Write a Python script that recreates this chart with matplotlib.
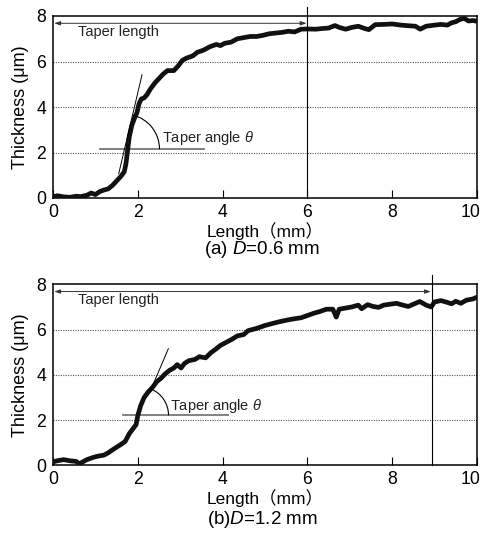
import numpy as np
import matplotlib
matplotlib.use("Agg")
import matplotlib.pyplot as plt
from matplotlib.patches import Arc
from matplotlib.transforms import ScaledTranslation

plt.rcParams['font.family'] = ['Liberation Sans', 'Noto Sans CJK JP', 'DejaVu Sans']
plt.rcParams['mathtext.fontset'] = 'custom'
plt.rcParams['mathtext.it'] = 'Liberation Sans:italic'
plt.rcParams['mathtext.rm'] = 'Liberation Sans'

# ---- data: panel (a) D = 0.6 mm ----
xa = [0.0, 0.1, 0.25, 0.4, 0.55, 0.65, 0.8, 0.9, 1.0, 1.1, 1.2, 1.3, 1.4, 1.5, 1.6,
      1.68, 1.72, 1.76, 1.8, 1.86, 1.92, 1.98, 2.03, 2.08, 2.15, 2.22, 2.3, 2.4, 2.5,
      2.6, 2.7, 2.85, 2.95, 3.05, 3.15, 3.3, 3.4, 3.55, 3.7, 3.85, 3.95, 4.05, 4.2,
      4.35, 4.5, 4.65, 4.8, 4.95, 5.1, 5.25, 5.4, 5.55, 5.7, 5.85, 6.0, 6.2, 6.35,
      6.5, 6.65, 6.75, 6.9, 7.05, 7.2, 7.35, 7.45, 7.6, 7.8, 8.0, 8.2, 8.4, 8.55,
      8.66, 8.8, 9.0, 9.15, 9.3, 9.4, 9.5, 9.6, 9.7, 9.8, 9.9, 10.0]
ya = [0.05, 0.1, 0.05, 0.03, 0.08, 0.06, 0.12, 0.22, 0.15, 0.28, 0.35, 0.4, 0.55,
      0.75, 0.95, 1.15, 1.5, 2.1, 2.7, 3.2, 3.5, 3.75, 4.15, 4.35, 4.4, 4.55, 4.8,
      5.05, 5.25, 5.45, 5.6, 5.6, 5.8, 6.05, 6.15, 6.25, 6.4, 6.5, 6.65, 6.75, 6.7,
      6.8, 6.85, 7.0, 7.05, 7.1, 7.1, 7.15, 7.22, 7.25, 7.28, 7.33, 7.3, 7.42, 7.43,
      7.42, 7.45, 7.47, 7.58, 7.5, 7.42, 7.5, 7.55, 7.45, 7.4, 7.62, 7.63, 7.65,
      7.6, 7.57, 7.55, 7.42, 7.55, 7.6, 7.63, 7.6, 7.7, 7.75, 7.85, 7.9, 7.78, 7.8,
      7.77]

# ---- data: panel (b) D = 1.2 mm ----
xb = [0.0, 0.1, 0.25, 0.4, 0.55, 0.62, 0.7, 0.8, 0.95, 1.05, 1.2, 1.3, 1.4, 1.5,
      1.6, 1.7, 1.8, 1.9, 1.96, 2.0, 2.07, 2.15, 2.25, 2.35, 2.45, 2.55, 2.65, 2.75,
      2.85, 2.93, 3.02, 3.1, 3.2, 3.35, 3.45, 3.6, 3.72, 3.85, 3.95, 4.05, 4.2, 4.35,
      4.5, 4.6, 4.8, 5.0, 5.2, 5.35, 5.55, 5.7, 5.85, 6.0, 6.15, 6.3, 6.45, 6.6,
      6.68, 6.75, 6.9, 7.05, 7.2, 7.28, 7.42, 7.55, 7.68, 7.8, 7.95, 8.1, 8.25, 8.38,
      8.5, 8.65, 8.8, 8.92, 9.0, 9.15, 9.3, 9.4, 9.5, 9.62, 9.75, 9.9, 10.0]
yb = [0.15, 0.2, 0.25, 0.2, 0.17, 0.06, 0.15, 0.25, 0.35, 0.4, 0.45, 0.55, 0.68,
      0.8, 0.92, 1.05, 1.4, 1.65, 1.8, 2.2, 2.65, 3.0, 3.25, 3.45, 3.7, 3.85, 4.05,
      4.2, 4.3, 4.45, 4.3, 4.5, 4.62, 4.68, 4.8, 4.75, 4.97, 5.15, 5.3, 5.4, 5.55,
      5.72, 5.78, 5.95, 6.05, 6.18, 6.28, 6.35, 6.43, 6.48, 6.52, 6.62, 6.72, 6.8,
      6.9, 6.9, 6.55, 6.9, 6.95, 7.0, 7.08, 6.92, 7.1, 7.02, 6.98, 7.08, 7.12, 7.16,
      7.08, 7.02, 7.12, 7.24, 7.08, 7.0, 7.22, 7.28, 7.2, 7.14, 7.25, 7.16, 7.3,
      7.35, 7.43]

xticks = [0, 2, 4, 6, 8, 10]
yticks = [0, 2, 4, 6, 8]
captions = [r"(a) $D$=0.6 mm", r"(b)$D$=1.2 mm"]
taper_len = [6.0, 8.93]
# tangent line endpoints (x1, y1, x2, y2) and reference horizontal line (xa, xb, y)
tangents = [(1.55, 1.07, 2.1, 5.42), (2.3, 3.3, 2.72, 5.15)]
horiz = [(1.12, 3.57, 2.15), (1.655, 4.12, 2.21)]
angle_text_x = [2.58, 2.77]
angle_text_y = [2.62, 2.64]
arc_r_px = [35, 28.5]

W, H = 484, 538
fig = plt.figure(figsize=(W / 100, H / 100), dpi=100)
rects = [[53 / W, 1 - 198 / H, 424 / W, 182 / H],
         [53 / W, 1 - 465.3 / H, 424 / W, 181 / H]]
cap_y = [1 - 250 / H, 1 - 520 / H]

datasets = [(xa, ya), (xb, yb)]
for i, (xs, ys) in enumerate(datasets):
    ax = fig.add_axes(rects[i])
    ax.set_xlim(0, 10)
    ax.set_ylim(0, 8)
    ax.set_xticks(xticks)
    ax.set_yticks(yticks)
    ax.tick_params(direction='in', length=6, width=0.8, labelsize=12.7,
                   colors='black', pad=4)
    ax.tick_params(axis='y', length=0, pad=5)
    for s in ax.spines.values():
        s.set_linewidth(1.1)
    # nudge last x tick label so it stays inside the figure
    last = ax.get_xticklabels()[-1]
    last.set_transform(last.get_transform() + ScaledTranslation(-6 / 100, 0, fig.dpi_scale_trans))
    for g in [2, 4, 6]:
        ax.axhline(g, color='#555555', lw=0.8, ls=(0, (1, 1.2)), zorder=1)
    ax.plot(xs, ys, color='#111111', lw=3.4, solid_capstyle='round',
            solid_joinstyle='round', zorder=3)
    # taper length vertical line and arrow
    ax.plot([taper_len[i], taper_len[i]], [0, 8.4], color='black', lw=0.8,
            clip_on=False, zorder=4)
    ax.annotate('', xy=(taper_len[i] - 0.02, 7.68), xytext=(0.03, 7.68),
                arrowprops=dict(arrowstyle='<|-|>,head_length=0.35,head_width=0.12',
                                color='#333333', lw=0.7, shrinkA=0, shrinkB=0))
    ax.text(0.6, 7.3, 'Taper length', fontsize=10.5, color='#222222',
            va='center', ha='left')
    # tangent and horizontal
    x1, y1, x2, y2 = tangents[i]
    ax.plot([x1, x2], [y1, y2], color='black', lw=0.7, zorder=5)
    hx1, hx2, hy = horiz[i]
    ax.plot([hx1, hx2], [hy, hy], color='#777777', lw=1.3, zorder=2)
    xc = x1 + (hy - y1) * (x2 - x1) / (y2 - y1)
    p1 = ax.transData.transform((x1, y1))
    p2 = ax.transData.transform((x2, y2))
    ang = np.degrees(np.arctan2(p2[1] - p1[1], p2[0] - p1[0]))
    r_in = arc_r_px[i] / 100
    arc = Arc((0, 0), 2 * r_in, 2 * r_in, theta1=0, theta2=ang,
              transform=fig.dpi_scale_trans + ScaledTranslation(xc, hy, ax.transData),
              color='black', lw=0.8, zorder=5)
    ax.add_patch(arc)
    ax.text(angle_text_x[i], angle_text_y[i], r'Taper angle $\theta$', fontsize=10.5,
            color='#222222', va='center', ha='left')
    ax.set_xlabel('Length（mm）', fontsize=12.5, labelpad=1)
    ax.set_ylabel('Thickness (μm)', fontsize=13, labelpad=5)
    fig.text(0.541, cap_y[i], captions[i], fontsize=13.5, ha='center', va='center')

fig.savefig('out.png', dpi=100)
